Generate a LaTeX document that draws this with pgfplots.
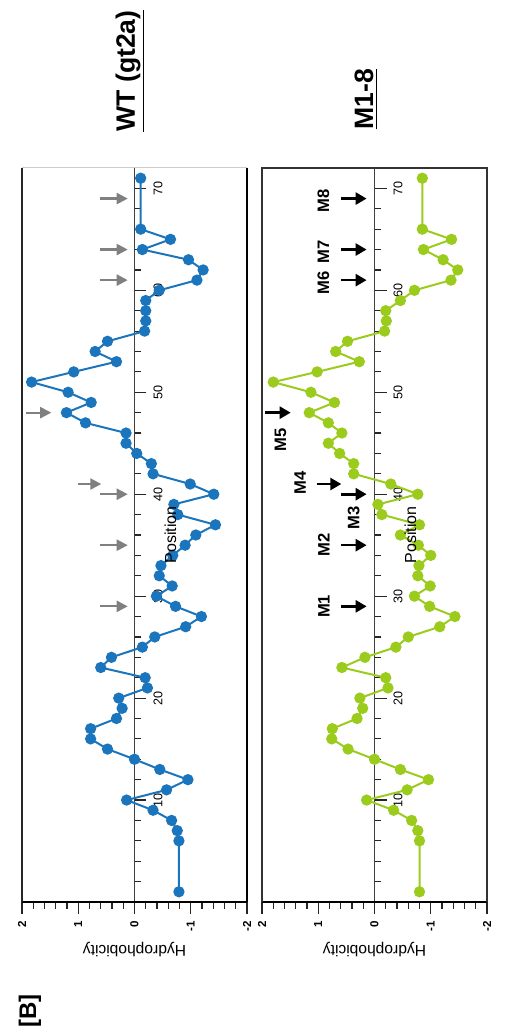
\documentclass[border=0pt]{standalone}
\usepackage{fontspec}
\setmainfont{Liberation Sans}
\usepackage{pgfplots}
\pgfplotsset{compat=1.18}
\usepackage{pgfplotstable}
\usetikzlibrary{arrows.meta}
\definecolor{wtblue}{HTML}{1B75BC}
\definecolor{mgreen}{HTML}{9BCB1C}

\pgfplotstableread{
x y
1 -0.79
6 -0.79
7 -0.76
8 -0.66
9 -0.33
10 0.14
11 -0.57
12 -0.95
13 -0.45
14 0.00
15 0.48
16 0.78
17 0.78
18 0.32
19 0.22
20 0.28
21 -0.23
22 -0.19
23 0.60
24 0.41
25 -0.14
26 -0.36
27 -0.91
28 -1.19
29 -0.73
30 -0.39
31 -0.67
32 -0.44
33 -0.47
34 -0.68
35 -0.90
36 -1.09
37 -1.44
38 -0.77
39 -0.70
40 -1.41
41 -0.99
42 -0.33
43 -0.30
44 -0.04
45 0.15
46 0.15
47 0.87
48 1.21
49 0.77
50 1.18
51 1.83
52 1.08
53 0.32
54 0.70
55 0.48
56 -0.18
57 -0.20
58 -0.20
59 -0.20
60 -0.44
61 -1.11
62 -1.22
63 -0.96
64 -0.14
65 -0.64
66 -0.11
71 -0.11
}\wtdata

\pgfplotstableread{
x y
1 -0.80
6 -0.80
7 -0.77
8 -0.66
9 -0.34
10 0.14
11 -0.58
12 -0.96
13 -0.46
14 0.00
15 0.47
16 0.76
17 0.75
18 0.31
19 0.21
20 0.26
21 -0.24
22 -0.20
23 0.58
24 0.17
25 -0.38
26 -0.60
27 -1.16
28 -1.43
29 -0.98
30 -0.71
31 -0.99
32 -0.77
33 -0.79
34 -1.00
35 -0.78
36 -0.46
37 -0.80
38 -0.13
39 -0.06
40 -0.77
41 -0.29
42 0.37
43 0.37
44 0.62
45 0.82
46 0.58
47 0.82
48 1.16
49 0.71
50 1.13
51 1.80
52 1.02
53 0.27
54 0.69
55 0.48
56 -0.18
57 -0.21
58 -0.20
59 -0.46
60 -0.71
61 -1.36
62 -1.48
63 -1.22
64 -0.87
65 -1.37
66 -0.85
71 -0.85
}\mdata

\tikzset{
 garr/.style={draw=black!50, line width=1.1pt, -{Triangle[length=5.5pt,width=5.5pt]}},
 barr/.style={draw=black, line width=1.3pt, -{Triangle[length=5.5pt,width=6pt]}},
}
\pgfplotsset{
 hydro/.style={
  scale only axis, width=367pt, height=112.5pt, anchor=south west,
  xmin=0, xmax=72, ymin=-2, ymax=2,
  axis x line*=middle, axis y line*=left,
  tick align=outside,
  xtick={0,10,...,70}, xticklabels={0,10,20,30,40,50,60,70},
  minor x tick num=4,
  ytick={-2,-1,0,1,2}, yticklabels={-2,-1,0,1,2},
  minor y tick num=4,
  major tick length=6pt, minor tick length=3.5pt,
  x axis line style={black!75, line width=0.6pt, -},
  y axis line style={black, line width=1.3pt, -},
  tick style={black!85, line width=0.6pt},
  xticklabel style={font=\fontsize{6.3}{7}\selectfont},
  yticklabel style={font=\fontsize{5.8}{7}\selectfont\bfseries},
  every axis x label/.style={at={(axis description cs:0.5,0.34)}, anchor=center, font=\fontsize{8}{9}\selectfont},
  every axis y label/.style={at={(axis description cs:-0.065,0.5)}, anchor=center, rotate=90, font=\fontsize{7.8}{9}\selectfont},
  xlabel={Position}, ylabel={Hydrophobicity},
  clip=false,
 },
}

\begin{document}
\begin{tikzpicture}
\begin{scope}[rotate=90, transform shape]
\path[use as bounding box] (0,0) rectangle (516pt,252pt);

\begin{axis}[hydro, at={(65pt,128.5pt)}]
\draw[black!85, line width=1pt] (rel axis cs:0,1) -- (rel axis cs:1,1);
\draw[black!20, line width=0.5pt] (rel axis cs:1,1) -- (rel axis cs:1,0);
\draw[black, line width=1.1pt] (rel axis cs:1,0) -- (rel axis cs:0,0);
\addplot[wtblue, line width=1pt, mark=*, mark size=2.3pt, mark options={fill=wtblue, draw=wtblue}] table[x=x,y=y] {\wtdata};
\draw[garr] (axis cs:29,0.62) -- (axis cs:29,0.12);
\draw[garr] (axis cs:35,0.62) -- (axis cs:35,0.12);
\draw[garr] (axis cs:40,0.62) -- (axis cs:40,0.12);
\draw[garr] (axis cs:41,1.00) -- (axis cs:41,0.59);
\draw[garr] (axis cs:48,1.92) -- (axis cs:48,1.48);
\draw[garr] (axis cs:61,0.62) -- (axis cs:61,0.12);
\draw[garr] (axis cs:64,0.62) -- (axis cs:64,0.12);
\draw[garr] (axis cs:69,0.62) -- (axis cs:69,0.12);
\end{axis}

\begin{axis}[hydro, at={(65pt,8.5pt)}]
\draw[black!80, line width=0.9pt] (rel axis cs:0,1) -- (rel axis cs:1,1) -- (rel axis cs:1,0) -- (rel axis cs:0,0);
\addplot[mgreen, line width=1pt, mark=*, mark size=2.3pt, mark options={fill=mgreen, draw=mgreen}] table[x=x,y=y] {\mdata};
\draw[barr] (axis cs:29,0.59) -- (axis cs:29,0.14);
\draw[barr] (axis cs:35,0.59) -- (axis cs:35,0.14);
\draw[barr] (axis cs:40,0.59) -- (axis cs:40,0.14);
\draw[barr] (axis cs:41,1.03) -- (axis cs:41,0.59);
\draw[barr] (axis cs:48,1.94) -- (axis cs:48,1.49);
\draw[barr] (axis cs:61,0.59) -- (axis cs:61,0.14);
\draw[barr] (axis cs:64,0.59) -- (axis cs:64,0.14);
\draw[barr] (axis cs:69,0.59) -- (axis cs:69,0.14);
\begin{scope}[font=\fontsize{8.3}{9}\selectfont\bfseries]
\node at (axis cs:29,0.90) {M1};
\node at (axis cs:35,0.90) {M2};
\node at (axis cs:37.7,0.37) {M3};
\node at (axis cs:41.1,1.32) {M4};
\node at (axis cs:45.3,1.67) {M5};
\node at (axis cs:60.7,0.91) {M6};
\node at (axis cs:63.8,0.91) {M7};
\node at (axis cs:68.8,0.91) {M8};
\end{scope}
\end{axis}

\node[font=\fontsize{13.3}{15}\selectfont\bfseries] at (480.5pt,187pt) {\underline{WT (gt2a)}};
\node[font=\fontsize{13.3}{15}\selectfont\bfseries] at (466.5pt,69pt) {\underline{M1-8}};
\node[font=\fontsize{12}{14}\selectfont\bfseries] at (10.5pt,237pt) {[B]};
\end{scope}
\end{tikzpicture}
\end{document}
